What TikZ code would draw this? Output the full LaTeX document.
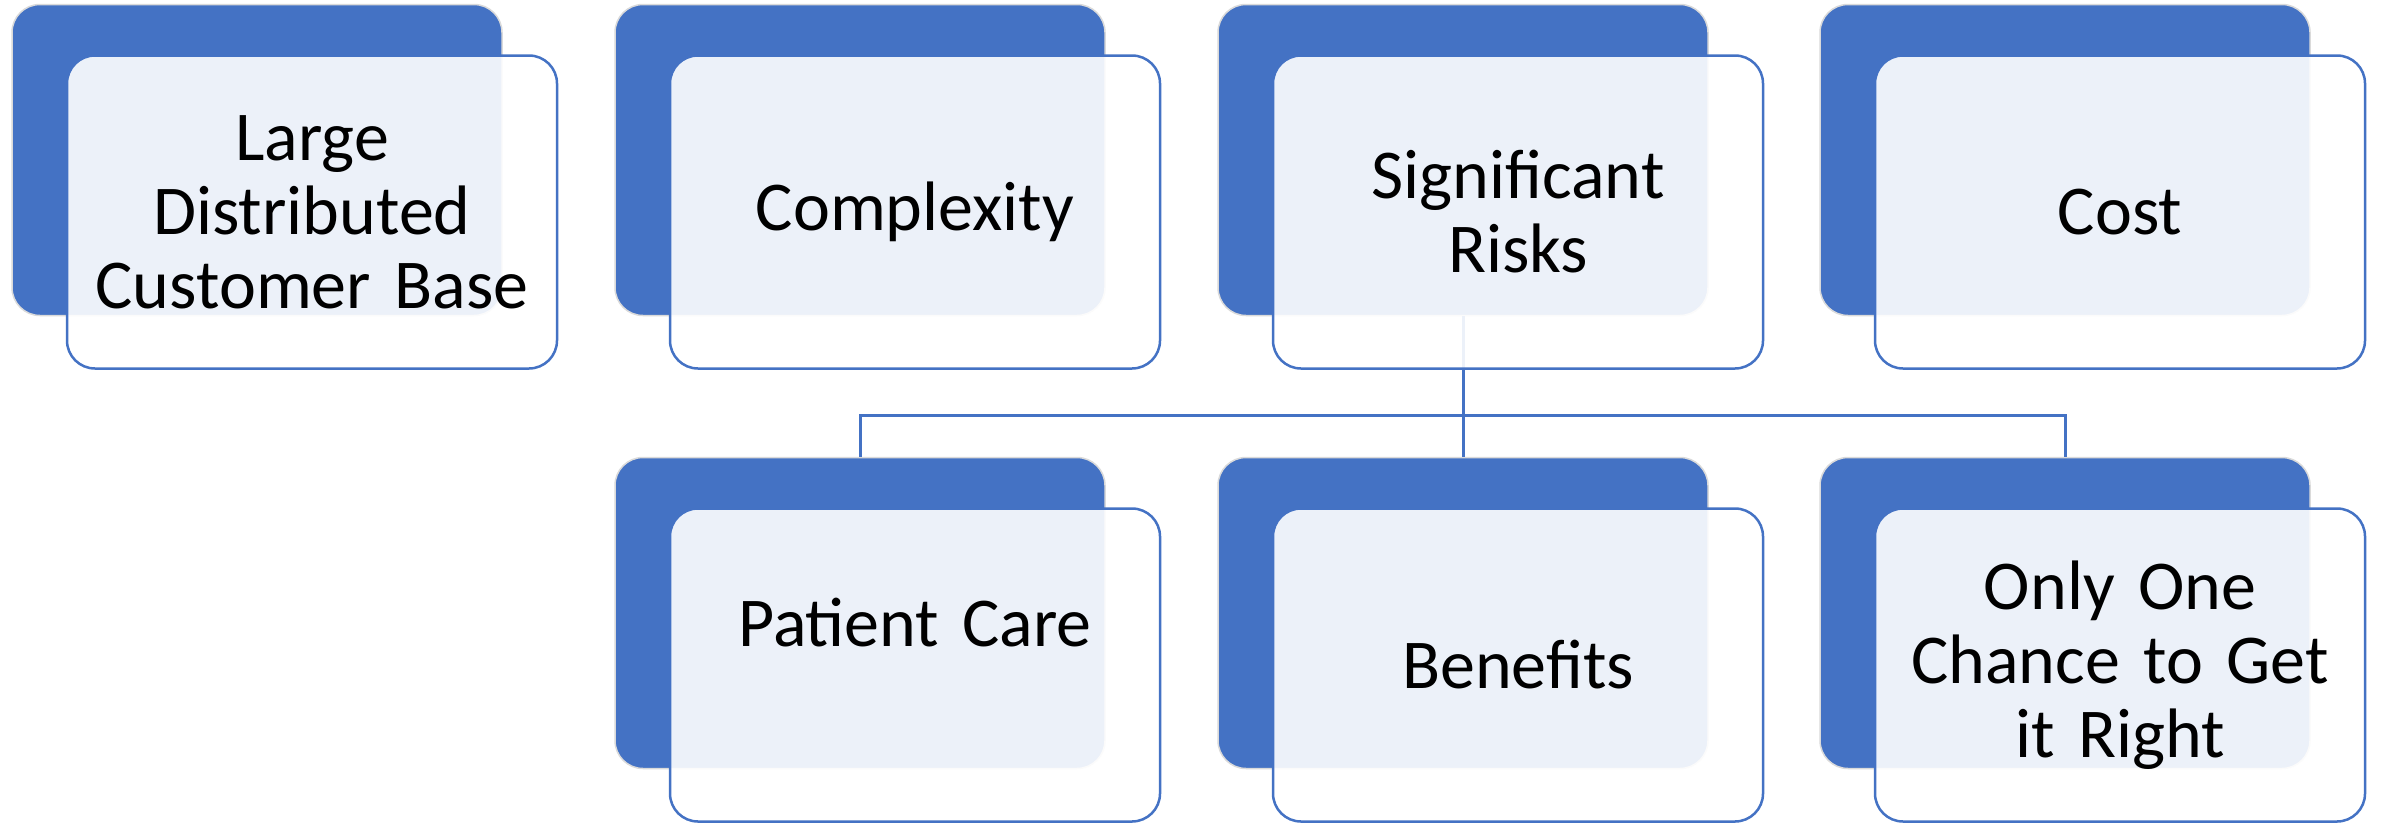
\documentclass[tikz,border=0pt]{standalone}
\usepackage{fontspec}
\setmainfont{Carlito}
\definecolor{accent}{HTML}{4472C4}
\definecolor{backedge}{HTML}{DADADA}
\begin{document}
\begin{tikzpicture}[x=1pt,y=-1pt,
  backbox/.style={rectangle, rounded corners=28pt, fill=accent, draw=backedge,
    line width=1.5pt, minimum width=490pt, minimum height=311pt, inner sep=0pt},
  frontbox/.style={rectangle, rounded corners=28pt, fill=white, fill opacity=0.9,
    text opacity=1, draw=accent, draw opacity=1, line width=2.5pt,
    minimum width=490pt, minimum height=313pt, inner sep=0pt, align=center,
    text width=480pt, font=\fontsize{70}{74}\selectfont},
  conn/.style={draw=accent, line width=3pt}]
\useasboundingbox (0,0) rectangle (2390,822);
\fill[white] (0,0) rectangle (2390,822);
% back boxes
\node[backbox] (b1) at (257,160) {};
\node[backbox] (b2) at (860,160) {};
\node[backbox] (b3) at (1463,160) {};
\node[backbox] (b4) at (2065,160) {};
\node[backbox] (b5) at (860,613) {};
\node[backbox] (b6) at (1463,613) {};
\node[backbox] (b7) at (2065,613) {};
% connectors
\coordinate (j) at (1463,415);
\draw[conn] (b3.south) -- (j);
\draw[conn] (j) -| (b5.north);
\draw[conn] (j) -| (b7.north);
\draw[conn] (j) -- (b6.north);
% front boxes
\node[frontbox] (f1) at (312,212) {Large\\Distributed\\Customer Base};
\node[frontbox] (f2) at (915,212) {Complexity};
\node[frontbox] (f3) at (1518,212) {Significant\\Risks};
\node[frontbox] (f4) at (2120,212) {Cost};
\node[frontbox] (f5) at (915,665) {\raisebox{19pt}[0pt][0pt]{Patient Care}};
\node[frontbox] (f6) at (1518,665) {Benefits};
\node[frontbox] (f7) at (2120,665) {Only One\\Chance to Get\\it Right};
\end{tikzpicture}
\end{document}
